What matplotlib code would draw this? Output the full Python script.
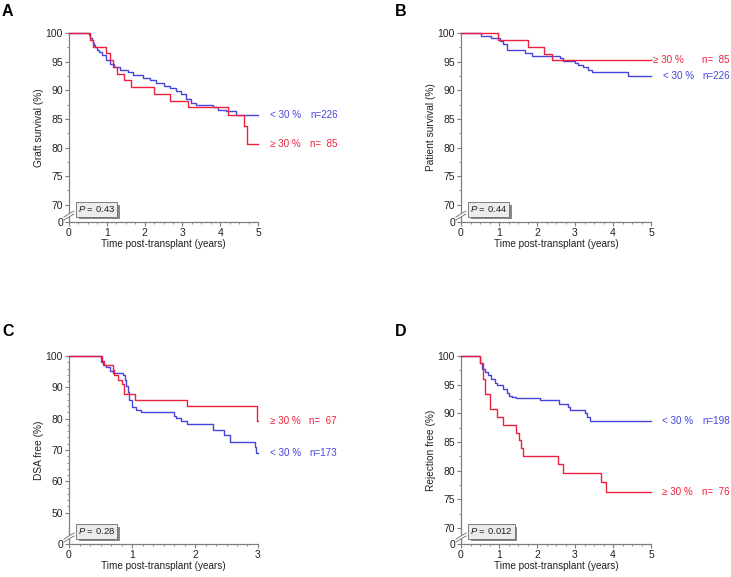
import numpy as np
import matplotlib.pyplot as plt
import matplotlib.patheffects as pe
from matplotlib.patches import Polygon

plt.rcParams['font.family'] = ['Liberation Sans', 'DejaVu Sans']
plt.rcParams['mathtext.fontset'] = 'custom'
plt.rcParams['mathtext.it'] = 'Liberation Sans:italic'
plt.rcParams['mathtext.rm'] = 'Liberation Sans'

BLUE = '#4646dc'
RED = '#f0203c'
AXIS = '#7f7f7f'
TXT = '#222222'

# ---- A: graft survival (event times in years, survival % after each step)
a_blue_t = [0.53, 0.56, 0.60, 0.63, 0.66, 0.70, 0.75, 0.80, 0.88, 0.98, 1.08, 1.20,
            1.36, 1.57, 1.70, 1.96, 2.14, 2.30, 2.50, 2.67, 2.84, 2.97, 3.10, 3.24,
            3.37, 3.80, 3.94, 4.16, 4.41]
a_blue_s = [99.6, 99.2, 98.8, 98.3, 97.9, 97.5, 97.0, 96.6, 96.2, 95.3, 94.5, 94.0,
            93.6, 93.2, 92.7, 92.2, 91.7, 91.3, 90.8, 90.4, 89.9, 89.4, 88.4, 87.8,
            87.5, 87.1, 86.6, 86.3, 85.75]
a_red_t = [0.55, 0.64, 0.98, 1.08, 1.17, 1.28, 1.45, 1.65, 2.24, 2.68, 3.15, 4.20,
           4.63, 4.71]
a_red_s = [98.8, 97.6, 96.5, 95.3, 94.1, 92.9, 91.8, 90.6, 89.4, 88.2, 87.0, 85.6,
           83.8, 80.6]

# ---- B: patient survival
b_blue_t = [0.52, 0.78, 1.03, 1.11, 1.20, 1.69, 1.88, 2.60, 2.68, 3.00, 3.09, 3.22,
            3.35, 3.44, 4.39]
b_blue_s = [99.5, 99.1, 98.6, 98.0, 97.0, 96.5, 96.0, 95.6, 95.1, 94.8, 94.4, 94.1,
            93.6, 93.1, 92.5]
b_red_t = [0.98, 1.75, 2.18, 2.39]
b_red_s = [98.8, 97.6, 96.4, 95.2]

# ---- C: DSA free
c_blue_t = [0.51, 0.54, 0.59, 0.65, 0.70, 0.86, 0.89, 0.91, 0.94, 0.96, 1.00, 1.07,
            1.15, 1.66, 1.70, 1.78, 1.88, 2.29, 2.46, 2.56, 2.95, 2.97]
c_blue_s = [98.1, 97.0, 96.5, 95.2, 94.7, 93.9, 92.3, 90.4, 88.6, 85.9, 83.6, 82.8,
            82.2, 81.0, 80.1, 79.1, 78.2, 76.4, 74.8, 72.7, 71.1, 69.2]
c_red_t = [0.52, 0.55, 0.70, 0.72, 0.78, 0.84, 0.87, 0.88, 1.04, 1.88, 2.99]
c_red_s = [98.5, 97.0, 95.5, 94.0, 92.5, 91.0, 89.5, 88.0, 86.0, 84.0, 79.4]

# ---- D: rejection free
d_blue_t = [0.50, 0.55, 0.62, 0.72, 0.80, 0.89, 0.96, 1.10, 1.20, 1.25, 1.33, 1.46,
            2.08, 2.58, 2.82, 2.87, 3.25, 3.31, 3.40]
d_blue_s = [98.7, 97.8, 97.2, 96.6, 96.0, 95.3, 94.9, 94.3, 93.5, 93.1, 92.8, 92.7,
            92.3, 91.7, 91.1, 90.5, 90.0, 89.4, 88.7]
d_red_t = [0.50, 0.59, 0.63, 0.76, 0.96, 1.10, 1.45, 1.53, 1.57, 1.62, 2.56, 2.68,
           3.68, 3.81]
d_red_s = [98.7, 96.0, 93.3, 90.7, 89.3, 88.0, 86.6, 85.3, 83.9, 82.5, 81.1, 79.6,
           78.0, 76.3]

groups = ['< 30 %', '\u2265 30 %']
n_A = ['n=226', 'n=  85']
n_B = ['n=226', 'n=  85']
n_C = ['n=173', 'n=  67']
n_D = ['n=198', 'n=  76']
p_vals = ['0.43', '0.44', '0.28', '0.012']

W, H = 731, 577
fig = plt.figure(figsize=(W / 100, H / 100), dpi=100)


def km(t, s, xmax):
    x = [0] + list(t) + [xmax]
    y = [100] + list(s) + [s[-1]]
    return x, y


def panel(rect, letter, letter_xy, ylabel, xmax, ylo, yticks, yminor, xminor, curves,
          ntext, pval, lab_dx, n_dx):
    ax = fig.add_axes(rect)
    for (t, s), col, g, n, ldx in zip(curves, [BLUE, RED], groups, ntext, lab_dx):
        x, y = km(t, s, xmax)
        ax.step(x, y, where='post', color=col, lw=1.0, clip_on=False, zorder=3)
        ax.annotate(g, xy=(xmax, y[-1]), xytext=(ldx, 0), textcoords='offset pixels',
                    va='center', ha='left', color=col, fontsize=7.1)
        ax.annotate(n, xy=(xmax, y[-1]), xytext=(n_dx, 0), textcoords='offset pixels',
                    va='center', ha='left', color=col, fontsize=7.1)
    ax.set_xlim(0, xmax)
    ax.set_ylim(ylo, 100)
    ax.set_xticks(range(0, xmax + 1))
    ax.set_xticks(np.arange(0, xmax + 0.001, xminor), minor=True)
    ax.set_yticks([ylo] + yticks)
    ax.set_yticklabels(['0'] + [str(v) for v in yticks])
    ax.set_yticks(np.arange(yticks[0], 100.001, yminor), minor=True)
    for side in ['top', 'right']:
        ax.spines[side].set_visible(False)
    for side in ['left', 'bottom']:
        ax.spines[side].set_color(AXIS)
        ax.spines[side].set_linewidth(0.9)
    ax.tick_params(which='major', length=3, width=0.8, color=AXIS, labelsize=7.5,
                   labelcolor=TXT, pad=1.3)
    ax.tick_params(which='minor', length=1.6, width=0.6, color=AXIS)
    ax.set_ylabel(ylabel, fontsize=7.3, color=TXT, labelpad=1.5)
    ax.set_xlabel('Time post-transplant (years)', fontsize=7.2, color=TXT, labelpad=1)

    # axis break marks on the left spine
    pos = ax.get_position()
    wpx, hpx = pos.width * W, pos.height * H
    yb = 6.5 / hpx
    dx, dy, gap = 5.0 / wpx, 3.0 / hpx, 3.0 / hpx
    ax.add_patch(Polygon([(-dx, yb - dy - gap / 2), (dx, yb + dy - gap / 2),
                          (dx, yb + dy + gap / 2), (-dx, yb - dy + gap / 2)],
                         closed=True, transform=ax.transAxes, fc='white', ec='none',
                         clip_on=False, zorder=4))
    for off in [-gap / 2, gap / 2]:
        ax.plot([-dx, dx], [yb - dy + off, yb + dy + off], color=AXIS, lw=0.7,
                transform=ax.transAxes, clip_on=False, zorder=5)

    # P value box with drop shadow
    pt = ax.text(9.0 / wpx, 12.5 / hpx, '$P$ = ' + pval, transform=ax.transAxes,
                 fontsize=6.8, color=TXT, va='center', ha='left', zorder=6,
                 bbox=dict(boxstyle='square,pad=0.22', fc='#ececec', ec='#6a6a6a',
                           lw=0.6))
    pt.get_bbox_patch().set_path_effects([
        pe.SimplePatchShadow(offset=(2, -2), shadow_rgbFace='#8a8a8a', alpha=1.0),
        pe.Normal()])

    fig.text(letter_xy[0] / W, 1 - letter_xy[1] / H, letter, fontsize=11.5,
             fontweight='bold', ha='left', va='top')
    return ax


top_row = [0.6153, 0.3276]
bot_row = [0.0572, 0.3258]
ticks5 = [70, 75, 80, 85, 90, 95, 100]
ticks10 = [50, 60, 70, 80, 90, 100]

panel([69 / W, top_row[0], 189 / W, top_row[1]], 'A', (2, 4), 'Graft survival (%)',
      5, 67.0, ticks5, 2.5, 0.25, [(a_blue_t, a_blue_s), (a_red_t, a_red_s)], n_A,
      p_vals[0], [12, 12], 52)
panel([461 / W, top_row[0], 190 / W, top_row[1]], 'B', (395, 4), 'Patient survival (%)',
      5, 67.0, ticks5, 2.5, 0.25, [(b_blue_t, b_blue_s), (b_red_t, b_red_s)], n_B,
      p_vals[1], [12, 2], 51)
panel([69 / W, bot_row[0], 189 / W, bot_row[1]], 'C', (2, 324), 'DSA free (%)',
      3, 40.0, ticks10, 2, 1 / 6, [(c_blue_t, c_blue_s), (c_red_t, c_red_s)], n_C,
      p_vals[2], [12, 12], 51)
panel([461 / W, bot_row[0], 190 / W, bot_row[1]], 'D', (395, 324), 'Rejection free (%)',
      5, 67.2, ticks5, 2.5, 0.25, [(d_blue_t, d_blue_s), (d_red_t, d_red_s)], n_D,
      p_vals[3], [11, 11], 51)

fig.savefig('out.png', dpi=100)
